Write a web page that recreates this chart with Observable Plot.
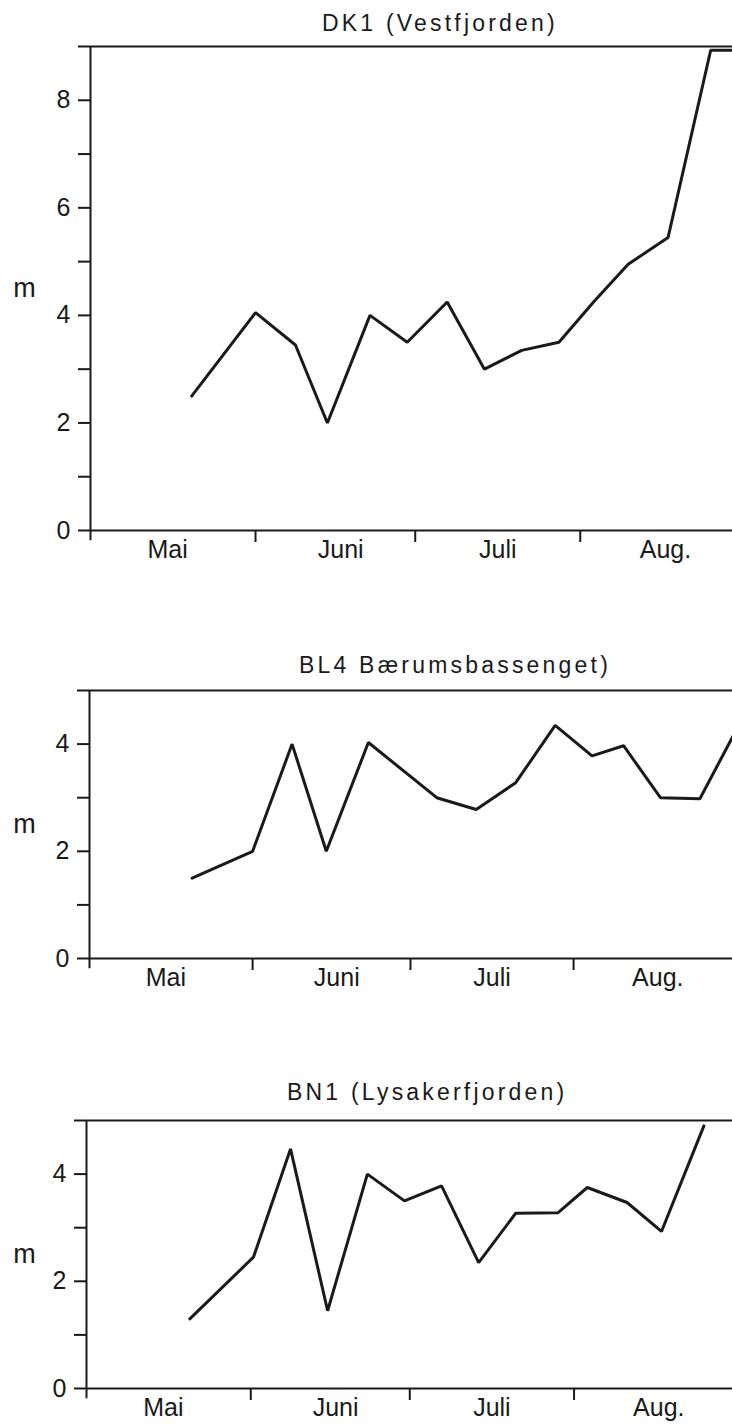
<!DOCTYPE html>
<html>
<head>
<meta charset="utf-8">
<script src="https://cdn.jsdelivr.net/npm/d3@7"></script>
<script src="https://cdn.jsdelivr.net/npm/@observablehq/plot@0.6"></script>
<style>
  html, body { margin: 0; padding: 0; background: #fff; }
  #page { position: relative; width: 732px; height: 1424px; overflow: hidden; background: #fff;
          font-family: "Liberation Sans", Arial, sans-serif; color: #1a1a1a; }
  .panel { position: absolute; left: 0; }
  .title { position: absolute; font-size: 23px; line-height: 1; letter-spacing: 3.2px; white-space: nowrap; }
</style>
</head>
<body>
<div id="page"></div>
<script>
// ---- data (days after 1 May; depth in m) ----
const titles = ["DK1 (Vestfjorden)", "BL4 Bærumsbassenget)", "BN1 (Lysakerfjorden)"];

const days1  = [19, 31, 38.5, 44.5, 52.5, 59.5, 67, 74, 81, 88, 94.5, 101, 108.5, 116.5, 121];
const depth1 = [2.5, 4.05, 3.45, 2.0, 4.0, 3.5, 4.25, 3.0, 3.35, 3.5, 4.25, 4.95, 5.45, 8.93, 8.93];

const days2  = [19.5, 31, 38.5, 45, 53, 66, 73.5, 81, 88.5, 95.5, 101.5, 108.5, 116, 123];
const depth2 = [1.5, 2.0, 4.0, 2.0, 4.03, 3.0, 2.78, 3.28, 4.35, 3.78, 3.97, 3.0, 2.98, 4.28];

const days3  = [19.5, 31.5, 38.5, 45.5, 53, 60, 67, 74, 81, 89, 94.5, 102, 108.5, 116.5];
const depth3 = [1.3, 2.45, 4.47, 1.45, 4.0, 3.5, 3.78, 2.35, 3.27, 3.28, 3.75, 3.47, 2.93, 4.9];

const monthBoundaries = [31, 61, 92];          // 1 June, 1 July, 1 August
const monthLabelPos   = [14.5, 47, 76.5, 108];
const monthLabels     = ["Mai", "Juni", "Juli", "Aug."];
const yTicks1 = [0, 1, 2, 3, 4, 5, 6, 7, 8, 9];
const yTicks2 = [0, 1, 2, 3, 4, 5];
const yLabelEvery = 2;
const unitLabel = "m";

// ---- layout ----
const panels = [
  {title: titles[0], days: days1, depth: depth1, yMax: 9, yTicks: yTicks1, xMax: 120.6,
   top: 0, marginTop: 46, inner: 484, marginBottom: 44, marginLeft: 90, titleLeft: 322, titleTop: 12},
  {title: titles[1], days: days2, depth: depth2, yMax: 5, yTicks: yTicks2, xMax: 122.2,
   top: 640, marginTop: 50, inner: 268, marginBottom: 44, marginLeft: 89, titleLeft: 299, titleTop: 654},
  {title: titles[2], days: days3, depth: depth3, yMax: 5, yTicks: yTicks2, xMax: 121.9,
   top: 1070, marginTop: 50, inner: 268, marginBottom: 34, marginLeft: 86, titleLeft: 287, titleTop: 1081}
];

const page = document.getElementById("page");
const ink = "#1a1a1a";

for (const p of panels) {
  const rows = p.days.map((d, i) => ({day: d, depth: p.depth[i]}));
  const chart = Plot.plot({
    width: 732,
    height: p.marginTop + p.inner + p.marginBottom,
    marginTop: p.marginTop,
    marginBottom: p.marginBottom,
    marginLeft: p.marginLeft,
    marginRight: 0,
    style: {fontFamily: "'Liberation Sans', Arial, sans-serif", fontSize: "25px", color: ink, background: "white", overflow: "hidden"},
    x: {domain: [0, p.xMax], axis: null},
    y: {domain: [0, p.yMax], axis: null},
    marks: [
      Plot.axisY(p.yTicks, {
        label: null, tickSize: 12, tickPadding: 8, strokeWidth: 2, fontSize: 25,
        tickFormat: d => (d % yLabelEvery === 0 && d < p.yMax) ? String(d) : ""
      }),
      Plot.axisX(monthBoundaries, {label: null, tickSize: 12, strokeWidth: 2, tickFormat: () => ""}),
      Plot.axisX(monthLabelPos, {
        label: null, tickSize: 0, tickPadding: 10, fontSize: 25,
        tickFormat: d => monthLabels[monthLabelPos.indexOf(d)]
      }),
      Plot.ruleY([0, p.yMax], {stroke: ink, strokeWidth: 2}),
      Plot.ruleX([0], {y1: -0.19, y2: p.yMax, stroke: ink, strokeWidth: 2}),
      Plot.line(rows, {x: "day", y: "depth", stroke: ink, strokeWidth: 3, strokeLinejoin: "miter", clip: true}),
      Plot.text([unitLabel], {frameAnchor: "left", textAnchor: "middle", dx: 24 - p.marginLeft, fontSize: 27, fill: ink})
    ]
  });
  const wrap = document.createElement("div");
  wrap.className = "panel";
  wrap.style.top = p.top + "px";
  wrap.appendChild(chart);
  page.appendChild(wrap);

  const t = document.createElement("div");
  t.className = "title";
  t.style.left = p.titleLeft + "px";
  t.style.top = p.titleTop + "px";
  t.textContent = p.title;
  page.appendChild(t);
}
</script>
</body>
</html>
